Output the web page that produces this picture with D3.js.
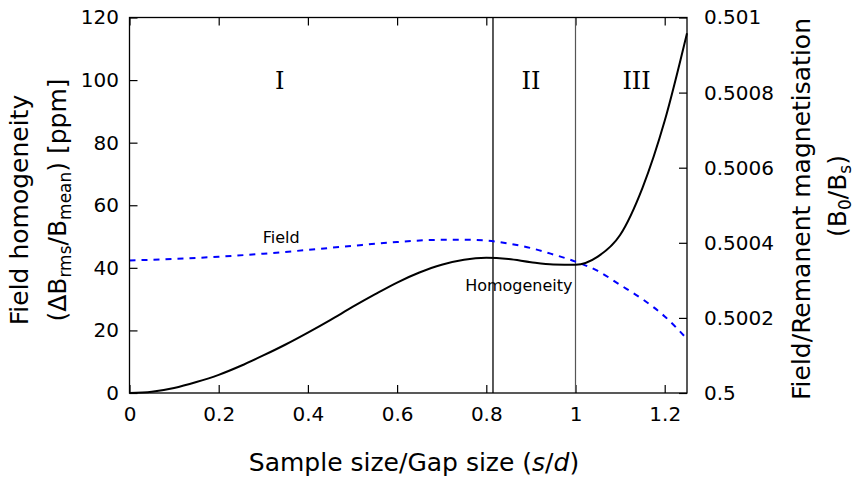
<!DOCTYPE html>
<meta charset="utf-8">
<style>
	body { margin: 0; background: #fff; }
	text { font-family: "DejaVu Sans", sans-serif; fill: #000; }
	.axis text { font-size: 20px; }
	.axis line { stroke: #000; stroke-width: 1.2; }
	.title { font-size: 25px; }
	.region { font-family: "DejaVu Serif", serif; font-size: 24px; text-anchor: middle; }
	.note { font-size: 16px; text-anchor: middle; }
</style>
<svg width="857" height="481"></svg>
<script src="https://d3js.org/d3.v7.min.js"></script>
<script>

	// data
	var sizeRatio = [0, 0.05, 0.1, 0.15, 0.2, 0.25, 0.3, 0.35, 0.4, 0.45, 0.5, 0.55, 0.6, 0.65,
		0.7, 0.75, 0.8, 0.85, 0.9, 0.95, 1.0, 1.05, 1.1, 1.15, 1.2, 1.25];
	var homogeneity = [0, 0.4, 1.6, 3.5, 5.8, 8.7, 12, 15.5, 19.3, 23.3, 27.5, 31.5, 35.3, 38.5,
		41, 42.6, 43.2, 42.8, 41.8, 41.1, 41.0, 43.6, 50.5, 65.5, 87, 115];

	var fieldRatio = [0, 0.1, 0.2, 0.3, 0.4, 0.5, 0.6, 0.7, 0.75, 0.8, 0.85, 0.9, 0.95,
		1.0, 1.05, 1.1, 1.15, 1.2, 1.25];
	var field = [0.500353, 0.500357, 0.500363, 0.500371, 0.500381, 0.500392, 0.500402, 0.500408,
		0.500408, 0.500406, 0.500398, 0.500386, 0.500369, 0.500350, 0.500325, 0.500288,
		0.500250, 0.500204, 0.500144];

	var boundaries = [0.815, 1.0];
	var regionNames = ["I", "II", "III"];
	var regionCentres = [0.337, 0.9, 1.137];

	var xTicks = [0, 0.2, 0.4, 0.6, 0.8, 1, 1.2];
	var yTicks = [0, 20, 40, 60, 80, 100, 120];
	var y2Ticks = [0.5, 0.5002, 0.5004, 0.5006, 0.5008, 0.501];

	var margin = {top: 17.5, right: 170, bottom: 88, left: 129.5},
		width = 857 - margin.left - margin.right,
		height = 481 - margin.top - margin.bottom;

	var svg = d3.select("svg")
		.append("g").attr("transform", "translate(" + margin.left + "," + margin.top + ")");

	var x = d3.scaleLinear().domain([0, 1.25]).range([0, width]);
	var y = d3.scaleLinear().domain([0, 120]).range([height, 0]);
	var y2 = d3.scaleLinear().domain([0.5, 0.501]).range([height, 0]);

	var fmt = d3.format(".6~g");

	// axes, ticks pointing inwards
	svg.append("g").attr("class", "axis")
		.attr("transform", "translate(0," + height + ")")
		.call(d3.axisBottom(x).tickValues(xTicks).tickFormat(fmt).tickSizeInner(-8).tickSizeOuter(0).tickPadding(14));

	svg.append("g").attr("class", "axis")
		.call(d3.axisTop(x).tickValues(xTicks).tickFormat("").tickSizeInner(-8).tickSizeOuter(0));

	svg.append("g").attr("class", "axis")
		.call(d3.axisLeft(y).tickValues(yTicks).tickSizeInner(-8).tickSizeOuter(0).tickPadding(10.5));

	svg.append("g").attr("class", "axis")
		.attr("transform", "translate(" + width + ",0)")
		.call(d3.axisRight(y2).tickValues(y2Ticks).tickFormat(fmt).tickSizeInner(-8).tickSizeOuter(0).tickPadding(17));

	svg.selectAll(".axis .domain").remove();

	// region boundaries
	svg.selectAll(".boundary")
		.data(boundaries)
		.enter().append("line")
		  .attr("x1", function(d) { return x(d); })
		  .attr("x2", function(d) { return x(d); })
		  .attr("y1", 0)
		  .attr("y2", height)
		  .attr("stroke", function(d, i) { return i == 0 ? "#000" : "#555"; })
		  .attr("stroke-width", function(d, i) { return i == 0 ? 1.3 : 1.2; });

	svg.selectAll(".region")
		.data(regionNames)
		.enter().append("text")
		  .attr("class", "region")
		  .attr("x", function(d, i) { return x(regionCentres[i]); })
		  .attr("y", 71)
		  .text(function(d) { return d; });

	// curves
	var homLine = d3.line()
		.x(function(d, i) { return x(sizeRatio[i]); })
		.y(function(d) { return y(d); })
		.curve(d3.curveMonotoneX);

	var fieldLine = d3.line()
		.x(function(d, i) { return x(fieldRatio[i]); })
		.y(function(d) { return y2(d); })
		.curve(d3.curveMonotoneX);

	svg.append("path")
		  .attr("d", fieldLine(field))
		  .attr("fill", "none")
		  .attr("stroke", "#0000ff")
		  .attr("stroke-width", 2)
		  .attr("stroke-dasharray", "6,6");

	svg.append("path")
		  .attr("d", homLine(homogeneity))
		  .attr("fill", "none")
		  .attr("stroke", "#000")
		  .attr("stroke-width", 2);

	// frame
	svg.append("rect")
		  .attr("width", width)
		  .attr("height", height)
		  .attr("fill", "none")
		  .attr("stroke", "#000")
		  .attr("stroke-width", 1.3);

	// curve labels
	svg.append("text").attr("class", "note")
		  .attr("x", x(0.34)).attr("y", 225.5)
		  .text("Field");
	svg.append("text").attr("class", "note")
		  .attr("x", x(0.873)).attr("y", 273.5)
		  .text("Homogeneity");

	// axis titles
	var root = d3.select("svg");

	var xt = root.append("text").attr("class", "title")
		.attr("x", 414).attr("y", 471)
		.attr("text-anchor", "middle");
	xt.append("tspan").text("Sample size/Gap size (");
	xt.append("tspan").style("font-style", "italic").text("s");
	xt.append("tspan").text("/");
	xt.append("tspan").style("font-style", "italic").text("d");
	xt.append("tspan").text(")");

	function sub(t, s) {
		t.append("tspan").attr("font-size", "17px").attr("dy", 5).text(s);
		return t;
	}
	function back(t, s) {
		t.append("tspan").attr("dy", -5).text(s);
		return t;
	}

	root.append("text").attr("class", "title")
		.attr("transform", "translate(28,210) rotate(-90)")
		.attr("text-anchor", "middle")
		.text("Field homogeneity");

	var l2 = root.append("text").attr("class", "title")
		.attr("transform", "translate(66,200) rotate(-90)")
		.attr("text-anchor", "middle");
	l2.append("tspan").text("(\u0394B");
	sub(l2, "rms");
	back(l2, "/B");
	sub(l2, "mean");
	back(l2, ") [ppm]");

	root.append("text").attr("class", "title")
		.attr("transform", "translate(810,209) rotate(-90)")
		.attr("text-anchor", "middle")
		.text("Field/Remanent magnetisation");

	var r2 = root.append("text").attr("class", "title")
		.attr("transform", "translate(846,196) rotate(-90)")
		.attr("text-anchor", "middle");
	r2.append("tspan").text("(B");
	sub(r2, "0");
	back(r2, "/B");
	sub(r2, "s");
	back(r2, ")");

</script>
